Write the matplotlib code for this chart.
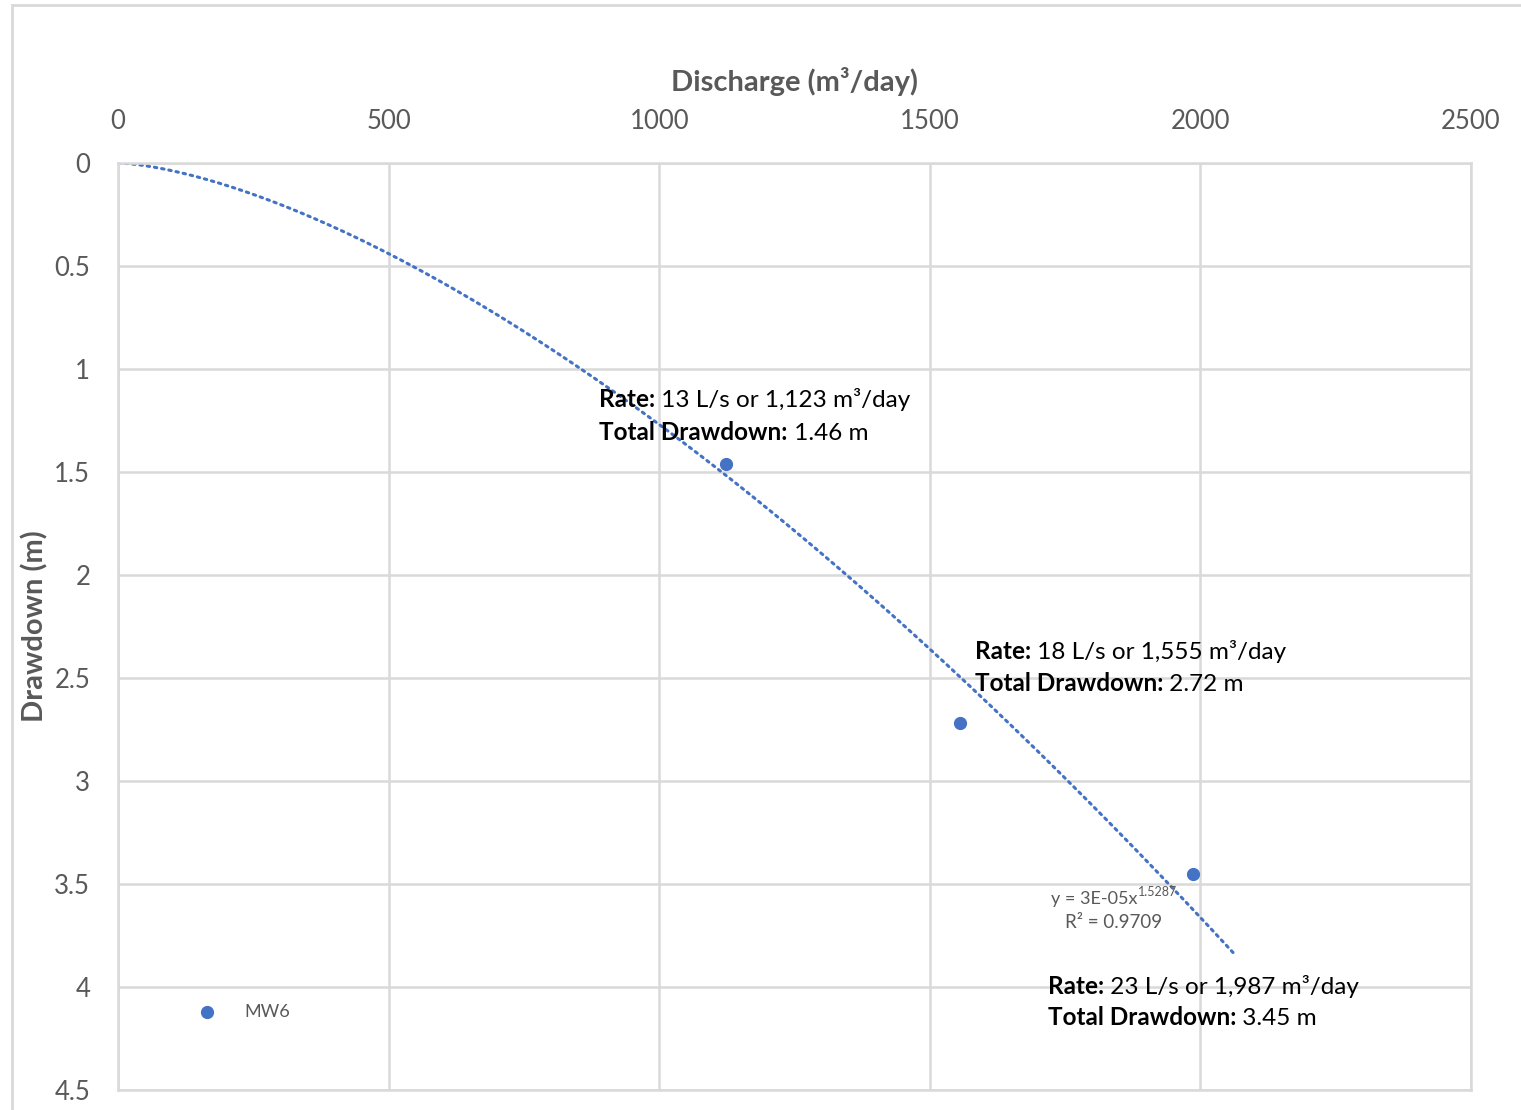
import numpy as np
import matplotlib
matplotlib.use("Agg")
import matplotlib.pyplot as plt
from matplotlib.patches import Rectangle

# Step-test results for well MW6
discharge = [1123, 1555, 1987]          # m3/day
drawdown = [1.46, 2.72, 3.45]           # m
rate_ls = [13, 18, 23]                  # L/s
series_name = "MW6"
x_ticks = [0, 500, 1000, 1500, 2000, 2500]
y_ticks = [0, 0.5, 1, 1.5, 2, 2.5, 3, 3.5, 4, 4.5]

# Power-law trendline y = a * x^b
trend_exponent = 1.5287
trend_r2 = 0.9709
lnx = np.log(discharge)
lny = np.log(drawdown)
a = np.exp(lny.mean() - trend_exponent * lnx.mean())
b = trend_exponent

plt.rcParams["font.family"] = ["Lato", "DejaVu Sans"]
BLUE = "#4472C4"
GRID = "#D9D9D9"
GRAY = "#595959"

fig = plt.figure(figsize=(15.21, 11.10), dpi=100)
ax = fig.add_axes([118 / 1521, 1 - 1090 / 1110, (1471 - 118) / 1521, (1090 - 163) / 1110])

# chart frame
fig.patches.append(Rectangle((12 / 1521, -0.05), 1.2, 1 - 5 / 1110 + 0.05,
                             transform=fig.transFigure, fill=False,
                             edgecolor=GRID, linewidth=2))

ax.set_xlim(0, 2500)
ax.set_ylim(4.5, 0)
ax.set_xticks(x_ticks)
ax.set_yticks(y_ticks)
ax.set_yticklabels([f"{v:g}" for v in y_ticks])
ax.xaxis.tick_top()
ax.xaxis.set_label_position("top")
ax.tick_params(length=0, labelsize=18.5, labelcolor=GRAY)
ax.tick_params(axis="x", pad=21)
ax.tick_params(axis="y", pad=20)
ax.grid(True, color=GRID, linewidth=1.8)
ax.set_axisbelow(True)
for s in ax.spines.values():
    s.set_color(GRID)
    s.set_linewidth(1.8)

ax.set_xlabel("Discharge (m³/day)", fontsize=21, fontweight="bold", color=GRAY, labelpad=13)
ax.set_ylabel("Drawdown (m)", fontsize=21, fontweight="bold", color=GRAY, labelpad=4)

# trendline
xt = np.linspace(0, 2065, 400)
ax.plot(xt, a * xt ** b, linestyle=(0, (0.8, 1.6)), color=BLUE, linewidth=2.2,
        dash_capstyle="round")

ax.plot(discharge, drawdown, "o", color=BLUE, markersize=8.5, label=series_name,
        linestyle="none")

# annotations
label_pos = [(889, 1.146), (1583, 2.369), (1718, 4.0)]
line_gap = [0.16, 0.16, 0.15]
for (lx, ly), g, q, r, d in zip(label_pos, line_gap, discharge, rate_ls, drawdown):
    for yy, head, body in [(ly, "Rate:", f" {r} L/s or {q:,} m³/day"),
                           (ly + g, "Total Drawdown:", f" {d:.2f} m")]:
        t = ax.text(lx, yy, head, fontsize=17.5, fontweight="bold", color="black",
                    va="center", ha="left")
        ax.annotate(body, xy=(1, 0), xycoords=t, fontsize=17.5, color="black",
                    va="bottom", ha="left")

# equation
eq = ax.text(1724, 3.573, f"y = {a:.0E}x", fontsize=13, color=GRAY, va="center", ha="left")
ax.annotate(f"{b:.4f}", xy=(1, 0.55), xycoords=eq, fontsize=9, color=GRAY,
            va="bottom", ha="left")
ax.text(1840, 3.689, f"R² = {trend_r2:.4f}", fontsize=13.5, color=GRAY,
        va="center", ha="center")

# legend
ax.plot([165], [4.12], "o", color=BLUE, markersize=8.5, clip_on=False)
ax.text(233, 4.12, series_name, fontsize=13, color=GRAY, va="center", ha="left")

fig.savefig("out.png", dpi=100)
